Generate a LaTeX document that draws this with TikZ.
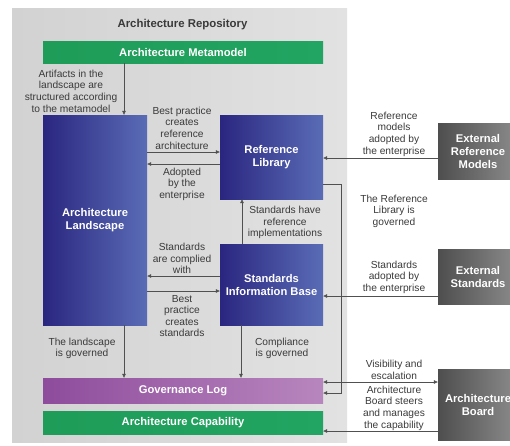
\documentclass[tikz,border=0pt]{standalone}
\usepackage{fontspec}
\setmainfont{Liberation Sans}
\usetikzlibrary{arrows.meta}
\definecolor{repoL}{HTML}{D2D2D2}
\definecolor{repoR}{HTML}{E2E2E2}
\definecolor{navyL}{HTML}{2A2680}
\definecolor{navyR}{HTML}{5A6CB6}
\definecolor{greenA}{HTML}{1E9C58}
\definecolor{greenB}{HTML}{22A562}
\definecolor{purpL}{HTML}{8E4C9C}
\definecolor{purpR}{HTML}{B886BE}
\definecolor{grayL}{HTML}{4E4E4E}
\definecolor{grayR}{HTML}{8C8C8C}
\definecolor{linec}{HTML}{505050}
\definecolor{labelc}{HTML}{3A3A3A}
\begin{document}
\begin{tikzpicture}[x=1pt,y=-1pt,
  boxtext/.style={font=\fontsize{11.2}{13}\selectfont\bfseries, text=white, align=center, inner sep=0pt},
  navybox/.style={boxtext, left color=navyL, right color=navyR, draw=none},
  greenbar/.style={boxtext, left color=greenA, right color=greenB, draw=none},
  purpbar/.style={boxtext, left color=purpL, right color=purpR, draw=none},
  graybox/.style={boxtext, left color=grayL, right color=grayR, draw=none},
  lbl/.style={font=\fontsize{10.2}{11.6}\selectfont, text=labelc, align=center, inner sep=0pt},
  arr/.style={draw=linec, line width=0.6pt, -{Triangle[length=4pt,width=3.6pt]}},
  darr/.style={draw=linec, line width=0.6pt, {Triangle[length=4pt,width=3.6pt]}-{Triangle[length=4pt,width=3.6pt]}}
]
\useasboundingbox (0,0) rectangle (510,445);
\shade[left color=repoL, right color=repoR] (12,8) rectangle (347,442);

\node[font=\fontsize{11.4}{13}\selectfont\bfseries, text=labelc, inner sep=0pt] (title) at (182.5,25) {Architecture Repository};

\node[greenbar, minimum width=280pt, minimum height=22pt] (meta) at (183,52) {Architecture Metamodel};
\node[navybox, minimum width=104pt, minimum height=210pt] (land) at (95,220) {Architecture\\Landscape};
\node[navybox, minimum width=103pt, minimum height=84pt] (ref) at (271.5,157) {Reference\\Library};
\node[navybox, minimum width=103pt, minimum height=81pt] (sib) at (271.5,284.5) {Standards\\Information Base};
\node[purpbar, minimum width=280pt, minimum height=25pt] (gov) at (183,390.5) {Governance Log};
\node[greenbar, minimum width=280pt, minimum height=23pt] (cap) at (183,422.5) {Architecture Capability};
\node[graybox, minimum width=80pt, minimum height=56pt] (extref) at (478,151) {External\\Reference\\Models};
\node[graybox, minimum width=80pt, minimum height=55pt] (extstd) at (478,276.5) {External\\Standards};
\node[graybox, minimum width=80pt, minimum height=71pt] (board) at (478,404.5) {Architecture\\Board};

% helper coordinates
\coordinate (x124) at (124,0);
\coordinate (x242) at (242,0);
\coordinate (x241) at (241,0);
\coordinate (x341) at (341,0);
\coordinate (y152) at (0,152);
\coordinate (y164) at (0,164);
\coordinate (y276) at (0,276);
\coordinate (y291) at (0,291);
\coordinate (y184) at (0,184);
\coordinate (y393) at (0,393);
\coordinate (y158) at (0,158);
\coordinate (y296) at (0,296);
\coordinate (y382) at (0,382);
\coordinate (y431) at (0,431);

% connectors
\draw[arr] (meta.south -| x124) -- (land.north -| x124);
\draw[arr] (land.east |- y152) -- (ref.west |- y152);
\draw[arr] (ref.west |- y164) -- (land.east |- y164);
\draw[arr] (sib.north -| x242) -- (ref.south -| x242);
\draw[arr] (sib.west |- y276) -- (land.east |- y276);
\draw[arr] (land.east |- y291) -- (sib.west |- y291);
\draw[arr] (land.south -| x124) -- (gov.north -| x124);
\draw[arr] (sib.south -| x241) -- (gov.north -| x241);
\draw[arr] (ref.east |- y184) -| (x341 |- y393) -- (gov.east |- y393);
\draw[arr] (extref.west |- y158) -- (ref.east |- y158);
\draw[arr] (extstd.west |- y296) -- (sib.east |- y296);
\draw[darr] (gov.east |- y382) -- (board.west |- y382);
\draw[arr] (board.west |- y431) -- (cap.east |- y431);

% labels
\node[lbl] (l1) at (71,91) {Artifacts in the\\landscape are\\structured according\\to the metamodel};
\node[lbl] (l2) at (182,128) {Best practice\\creates\\reference\\architecture};
\node[lbl] (l3) at (182,184) {Adopted\\by the\\enterprise};
\node[lbl] (l4) at (182,258.5) {Standards\\are complied\\with};
\node[lbl] (l5) at (182,316) {Best\\practice\\creates\\standards};
\node[lbl] (l6) at (82,348.5) {The landscape\\is governed};
\node[lbl] (l7) at (282,348.5) {Compliance\\is governed};
\node[lbl] (l8) at (285,222.5) {Standards have\\reference\\implementations};
\node[lbl] (l9) at (394,134) {Reference\\models\\adopted by\\the enterprise};
\node[lbl] (l10) at (394,211) {The Reference\\Library is\\governed};
\node[lbl] (l11) at (394,277) {Standards\\adopted by\\the enterprise};
\node[lbl] (l12) at (394,370) {Visibility and\\escalation};
\node[lbl] (l13) at (394,408) {Architecture\\Board steers\\and manages\\the capability};
\end{tikzpicture}
\end{document}
